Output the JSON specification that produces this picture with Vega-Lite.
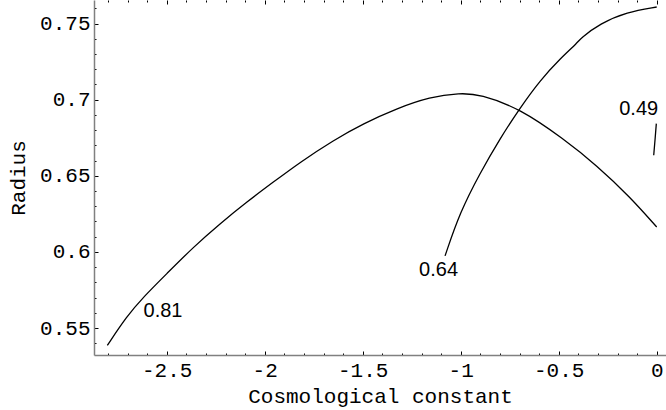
{
  "$schema": "https://vega.github.io/schema/vega-lite/v6.json",
  "width": 572,
  "height": 355,
  "autosize": "none",
  "padding": {"left": 94, "top": 0, "right": 0, "bottom": 55},
  "background": "white",
  "config": {
    "view": {"stroke": null},
    "axis": {
      "labelFont": "Liberation Mono",
      "labelFontSize": 21,
      "labelColor": "black",
      "titleFont": "Liberation Mono",
      "titleFontSize": 21,
      "titleFontWeight": "normal",
      "titleColor": "black",
      "domainColor": "#808080",
      "domainWidth": 1.5,
      "tickColor": "black",
      "tickWidth": 1,
      "grid": false
    }
  },
  "datasets": {
    "curves": [
      {"x": -2.803, "y": 0.5386, "s": "0.81"},
      {"x": -2.704, "y": 0.5577, "s": "0.81"},
      {"x": -2.619, "y": 0.5704, "s": "0.81"},
      {"x": -2.5, "y": 0.5857, "s": "0.81"},
      {"x": -2.364, "y": 0.6032, "s": "0.81"},
      {"x": -2.228, "y": 0.6186, "s": "0.81"},
      {"x": -2.092, "y": 0.6328, "s": "0.81"},
      {"x": -1.956, "y": 0.6459, "s": "0.81"},
      {"x": -1.82, "y": 0.6589, "s": "0.81"},
      {"x": -1.65, "y": 0.6733, "s": "0.81"},
      {"x": -1.497, "y": 0.6843, "s": "0.81"},
      {"x": -1.327, "y": 0.6942, "s": "0.81"},
      {"x": -1.157, "y": 0.7018, "s": "0.81"},
      {"x": -1.004, "y": 0.7044, "s": "0.81"},
      {"x": -0.902, "y": 0.7036, "s": "0.81"},
      {"x": -0.698, "y": 0.6942, "s": "0.81"},
      {"x": -0.477, "y": 0.6744, "s": "0.81"},
      {"x": -0.306, "y": 0.6569, "s": "0.81"},
      {"x": -0.136, "y": 0.6361, "s": "0.81"},
      {"x": 0.0, "y": 0.6164, "s": "0.81"},
      {"x": -1.08, "y": 0.5974, "s": "0.64"},
      {"x": -1.004, "y": 0.626, "s": "0.64"},
      {"x": -0.902, "y": 0.6517, "s": "0.64"},
      {"x": -0.799, "y": 0.6746, "s": "0.64"},
      {"x": -0.697, "y": 0.6947, "s": "0.64"},
      {"x": -0.595, "y": 0.7127, "s": "0.64"},
      {"x": -0.493, "y": 0.727, "s": "0.64"},
      {"x": -0.4, "y": 0.7379, "s": "0.64"},
      {"x": -0.391, "y": 0.7401, "s": "0.64"},
      {"x": -0.289, "y": 0.75, "s": "0.64"},
      {"x": -0.153, "y": 0.7576, "s": "0.64"},
      {"x": 0.0, "y": 0.7609, "s": "0.64"},
      {"x": -0.002, "y": 0.6843, "s": "0.49"},
      {"x": -0.0087, "y": 0.6733, "s": "0.49"},
      {"x": -0.0153, "y": 0.6635, "s": "0.49"}
    ],
    "labels": [
      {"x": -2.519, "y": 0.561, "t": "0.81"},
      {"x": -1.113, "y": 0.588, "t": "0.64"},
      {"x": -0.092, "y": 0.694, "t": "0.49"}
    ]
  },
  "resolve": {"axis": {"x": "independent", "y": "independent"}},
  "layer": [
    {
      "data": {"name": "curves"},
      "mark": {"type": "line", "color": "black", "strokeWidth": 1.3, "interpolate": "basis"},
      "encoding": {
        "x": {
          "field": "x", "type": "quantitative",
          "scale": {"domain": [-2.871, 0.0474], "nice": false, "zero": false},
          "axis": {
            "orient": "bottom",
            "title": "Cosmological constant",
            "values": [-2.8,-2.7,-2.6,-2.5,-2.4,-2.3,-2.2,-2.1,-2,-1.9,-1.8,-1.7,-1.6,-1.5,-1.4,-1.3,-1.2,-1.1,-1,-0.9,-0.8,-0.7,-0.6,-0.5,-0.4,-0.3,-0.2,-0.1,0],
            "labelExpr": "abs(datum.value*2 - round(datum.value*2)) < 0.001 ? toString(round(datum.value*2)/2) : ''",
            "tickSize": {"condition": {"test": "abs(datum.value*2 - round(datum.value*2)) < 0.001", "value": -4}, "value": -2},
            "labelPadding": 8,
            "labelFlush": false,
            "labelOverlap": false,
            "titlePadding": 3
          }
        },
        "y": {
          "field": "y", "type": "quantitative",
          "scale": {"domain": [0.5323, 0.7655], "nice": false, "zero": false},
          "axis": {
            "orient": "left",
            "title": "Radius",
            "values": [0.54,0.55,0.56,0.57,0.58,0.59,0.6,0.61,0.62,0.63,0.64,0.65,0.66,0.67,0.68,0.69,0.7,0.71,0.72,0.73,0.74,0.75,0.76],
            "labelExpr": "abs(datum.value*20 - round(datum.value*20)) < 0.001 ? toString(round(datum.value*20)/20) : ''",
            "tickSize": {"condition": {"test": "abs(datum.value*20 - round(datum.value*20)) < 0.001", "value": -4}, "value": -2},
            "labelPadding": 8,
            "labelFlush": false,
            "labelOverlap": false,
            "titlePadding": 11
          }
        },
        "detail": {"field": "s", "type": "nominal"}
      }
    },
    {
      "data": {"name": "labels"},
      "mark": {"type": "text", "font": "Liberation Sans", "fontSize": 20, "color": "black", "align": "center", "baseline": "middle"},
      "encoding": {
        "x": {
          "field": "x", "type": "quantitative",
          "axis": {
            "orient": "top",
            "title": null,
            "domain": false,
            "labels": false,
            "values": [-2.8,-2.7,-2.6,-2.5,-2.4,-2.3,-2.2,-2.1,-2,-1.9,-1.8,-1.7,-1.6,-1.5,-1.4,-1.3,-1.2,-1.1,-1,-0.9,-0.8,-0.7,-0.6,-0.5,-0.4,-0.3,-0.2,-0.1,0],
            "tickSize": {"condition": {"test": "abs(datum.value*2 - round(datum.value*2)) < 0.001", "value": -4}, "value": -2}
          }
        },
        "y": {"field": "y", "type": "quantitative", "axis": null},
        "text": {"field": "t", "type": "nominal"}
      }
    }
  ]
}
